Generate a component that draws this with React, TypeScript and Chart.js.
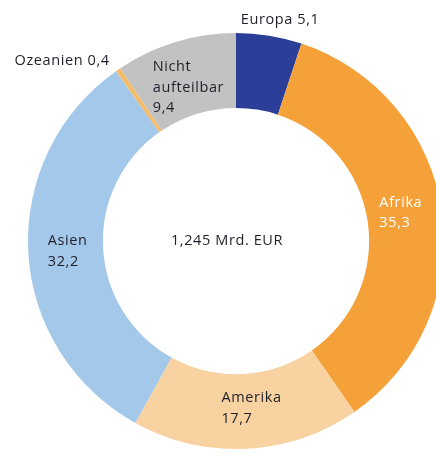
import React, { useEffect, useRef } from "react";
import { Chart, registerables } from "chart.js";

Chart.register(...registerables);

const categories = ["Europa", "Afrika", "Amerika", "Asien", "Ozeanien", "Nicht aufteilbar"];
const values = [5.1, 35.3, 17.7, 32.2, 0.4, 9.4];
const valueLabels = ["5,1", "35,3", "17,7", "32,2", "0,4", "9,4"];
const colors = ["#2B3F99", "#F5A13A", "#F8D2A0", "#A4C8EA", "#F3BD6B", "#C2C2C2"];
const labelLines = [
  ["Europa " + valueLabels[0]],
  ["Afrika", valueLabels[1]],
  ["Amerika", valueLabels[2]],
  ["Asien", valueLabels[3]],
  ["Ozeanien " + valueLabels[4]],
  ["Nicht", "aufteilbar", valueLabels[5]],
];
const labelColors = ["#1f1f2a", "#ffffff", "#1f1f2a", "#1f1f2a", "#1f1f2a", "#1f1f2a"];
const labelPlacement = ["outside", "inside", "inside", "inside", "outside", "inside"];
const labelOffset = [
  [11, -16],
  [-4, -4],
  [7, -3],
  [2, 1],
  [-56, -9],
  [2, 10],
];
const centerText = "1,245 Mrd. EUR";

const FONT = "14.5px 'Open Sans', sans-serif";
const LINE_H = 20.5;

const labelPlugin = {
  id: "segLabels",
  afterDatasetsDraw(chart: any) {
    const ctx = chart.ctx;
    const meta = chart.getDatasetMeta(0);
    ctx.save();
    ctx.font = FONT;
    try { (ctx as any).letterSpacing = "0.6px"; } catch (e) {}
    ctx.textBaseline = "middle";
    ctx.textAlign = "left";
    meta.data.forEach((arc: any, i: number) => {
      const p = arc.getProps(["x", "y", "startAngle", "endAngle", "innerRadius", "outerRadius"], true);
      const mid = (p.startAngle + p.endAngle) / 2;
      const r = labelPlacement[i] === "inside" ? (p.innerRadius + p.outerRadius) / 2 : p.outerRadius;
      const cx = p.x + Math.cos(mid) * r + labelOffset[i][0];
      const cy = p.y + Math.sin(mid) * r + labelOffset[i][1];
      const lines = labelLines[i];
      const w = Math.max(...lines.map((l: string) => ctx.measureText(l).width));
      const left = cx - w / 2;
      const top = cy - ((lines.length - 1) * LINE_H) / 2;
      ctx.fillStyle = labelColors[i];
      lines.forEach((l: string, k: number) => ctx.fillText(l, left, top + k * LINE_H));
    });
    const c = meta.data[0].getProps(["x", "y"], true);
    ctx.textAlign = "center";
    ctx.fillStyle = "#1f1f2a";
    ctx.fillText(centerText, c.x - 9, c.y);
    ctx.restore();
  },
};

export default function App() {
  const ref = useRef<HTMLCanvasElement>(null);
  useEffect(() => {
    document.body.style.margin = "0";
    const chart = new Chart(ref.current!, {
      type: "doughnut",
      data: {
        labels: categories,
        datasets: [
          {
            data: values,
            backgroundColor: colors,
            borderWidth: 0,
          },
        ],
      },
      options: {
        responsive: false,
        animation: false,
        cutout: "64%",
        layout: { padding: { left: 28, top: 33, right: 36, bottom: 14 } },
        plugins: { legend: { display: false }, tooltip: { enabled: false } },
      },
      plugins: [labelPlugin],
    });
    return () => chart.destroy();
  }, []);
  return (
    <div style={{ position: "relative", width: 436, height: 463, overflow: "hidden", background: "#fff" }}>
      <canvas
        ref={ref}
        width={480}
        height={463}
        style={{ position: "absolute", left: 0, top: 0, width: 480, height: 463 }}
      />
    </div>
  );
}
